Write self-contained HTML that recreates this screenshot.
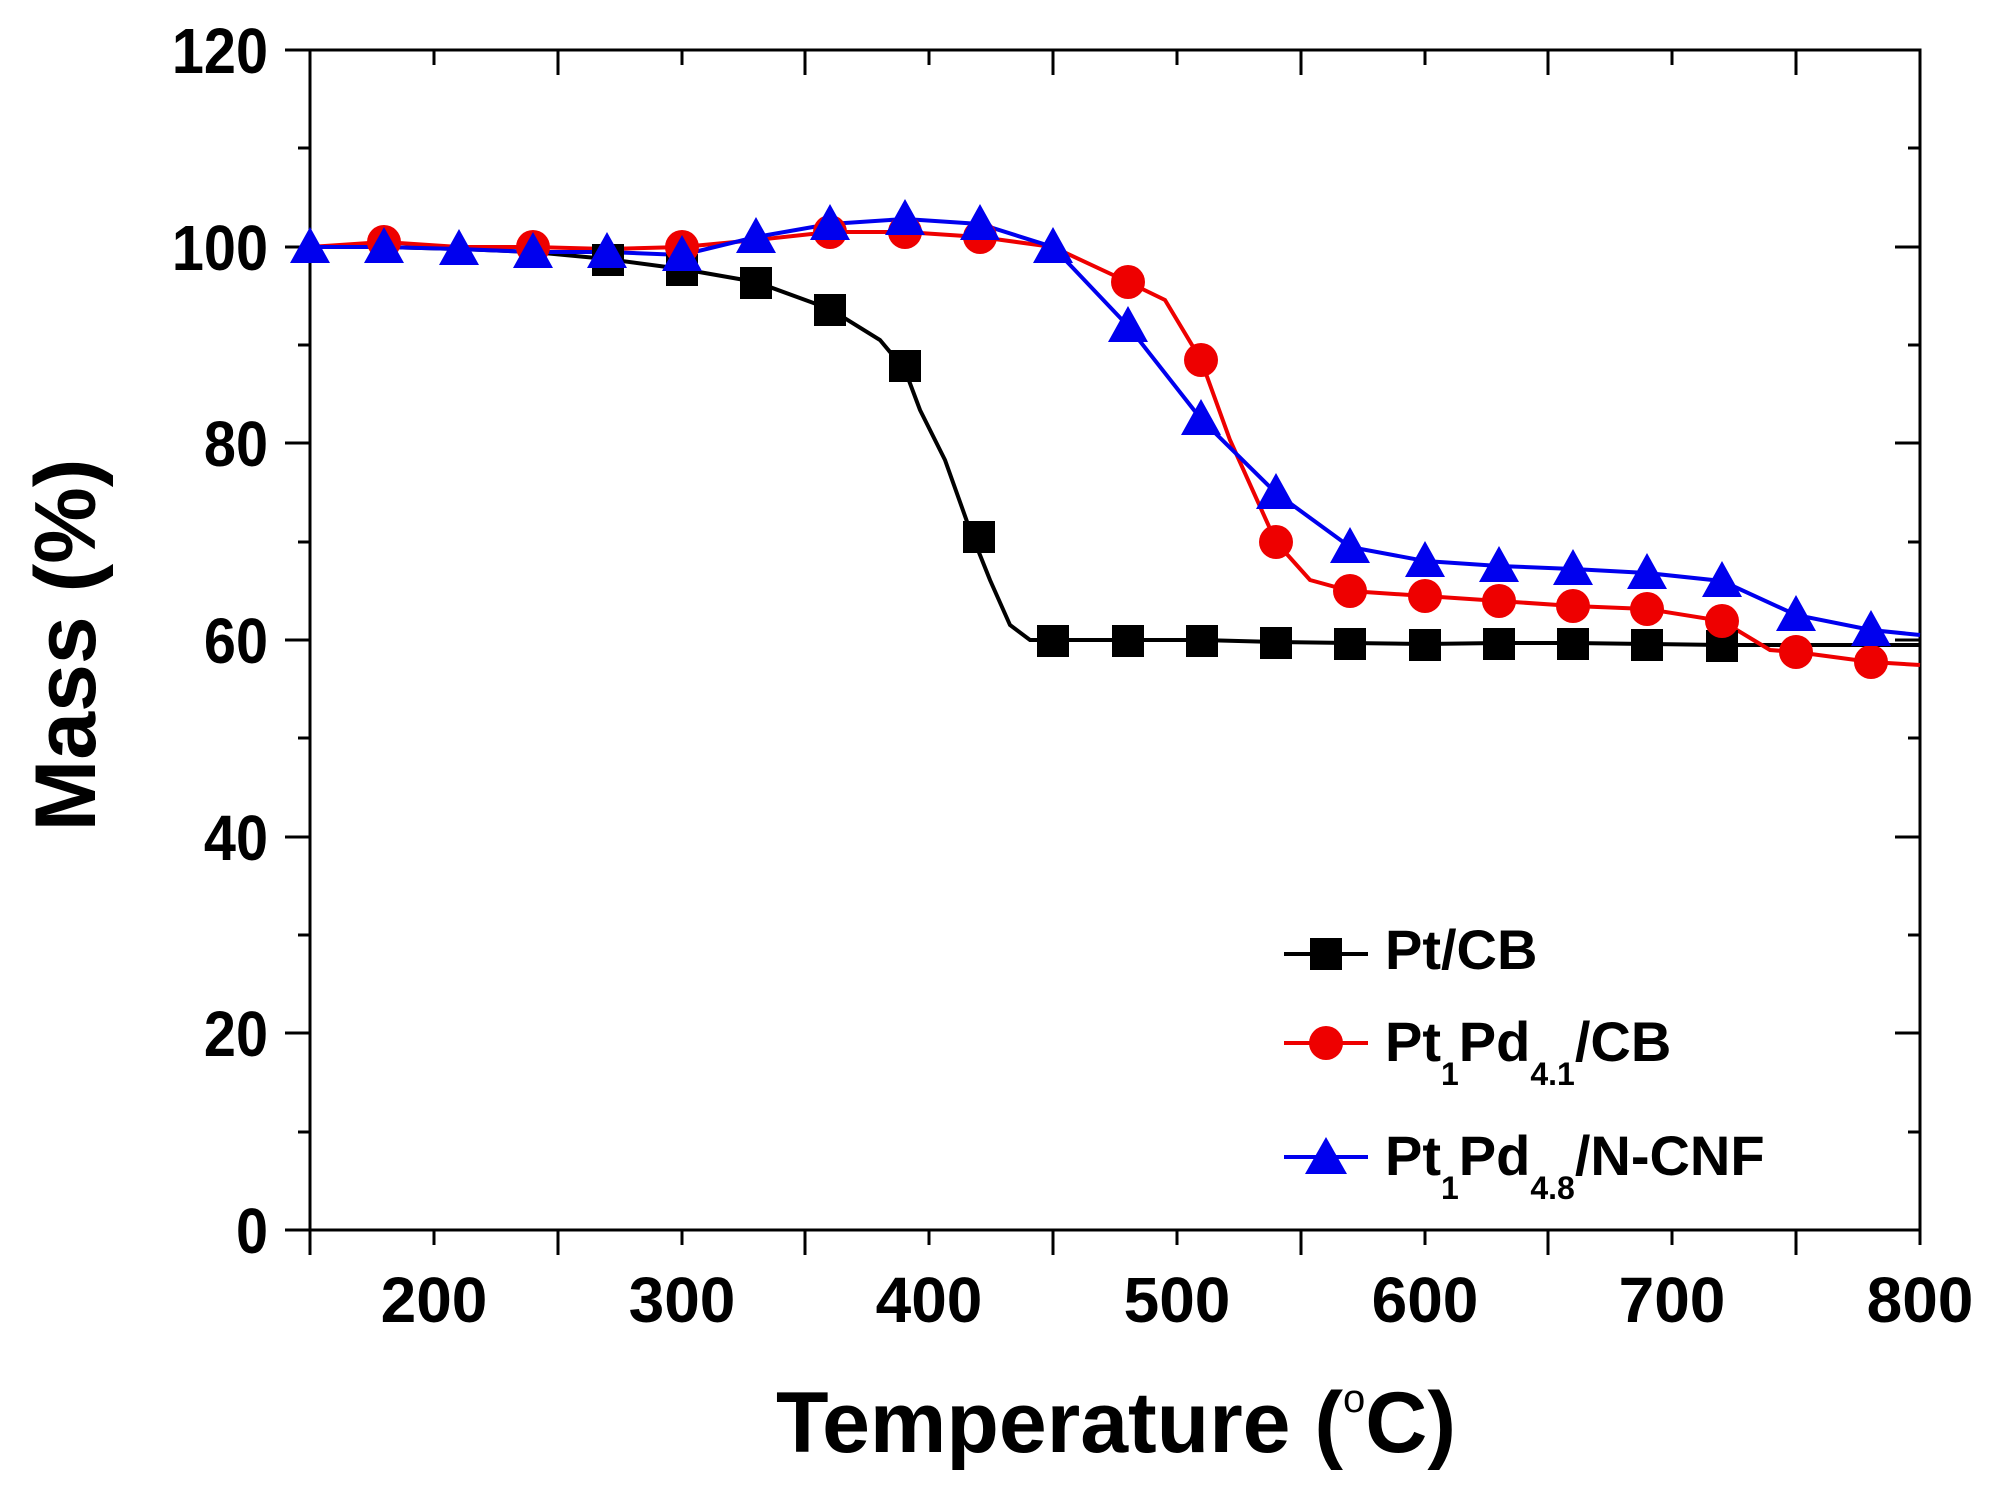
<!DOCTYPE html>
<html><head><style>body{margin:0;background:#fff}svg{display:block}</style></head><body>
<svg width="1989" height="1487" xmlns="http://www.w3.org/2000/svg" font-family="Liberation Sans, Arial, sans-serif" font-weight="bold">
<g stroke="#000" stroke-width="3" fill="none">
<rect x="310" y="50" width="1610" height="1180"/>
</g>
<g stroke="#000" stroke-width="3">
<path d="M310 1230v25M434 1230v15M558 1230v25M682 1230v15M805 1230v25M929 1230v15M1053 1230v25M1177 1230v15M1301 1230v25M1425 1230v15M1548 1230v25M1672 1230v15M1796 1230v25M1920 1230v15
M434 50v15M558 50v25M682 50v15M805 50v25M929 50v15M1053 50v25M1177 50v15M1301 50v25M1425 50v15M1548 50v25M1672 50v15M1796 50v25"/>
<path d="M285 1230h25M298 1132h12M285 1033h25M298 935h12M285 837h25M298 738h12M285 640h25M298 542h12M285 443h25M298 345h12M285 247h25M298 148h12M285 50h25
M1920 1132h-12M1920 1033h-25M1920 935h-12M1920 837h-25M1920 738h-12M1920 640h-25M1920 542h-12M1920 443h-25M1920 345h-12M1920 247h-25M1920 148h-12"/>
</g>
<g font-size="64" text-anchor="end">
<text x="268" y="1253" transform="translate(268 0) scale(0.9 1) translate(-268 0)">0</text>
<text x="268" y="1056" transform="translate(268 0) scale(0.9 1) translate(-268 0)">20</text>
<text x="268" y="860" transform="translate(268 0) scale(0.9 1) translate(-268 0)">40</text>
<text x="268" y="663" transform="translate(268 0) scale(0.9 1) translate(-268 0)">60</text>
<text x="268" y="466" transform="translate(268 0) scale(0.9 1) translate(-268 0)">80</text>
<text x="268" y="270" transform="translate(268 0) scale(0.9 1) translate(-268 0)">100</text>
<text x="268" y="73" transform="translate(268 0) scale(0.9 1) translate(-268 0)">120</text>
</g>
<g font-size="64" text-anchor="middle">
<text x="434" y="1322">200</text><text x="682" y="1322">300</text><text x="929" y="1322">400</text>
<text x="1177" y="1322">500</text><text x="1425" y="1322">600</text><text x="1672" y="1322">700</text><text x="1920" y="1322">800</text>
</g>
<text x="1116" y="1452" font-size="86" text-anchor="middle">Temperature (<tspan font-size="40" dy="-40" font-weight="normal">o</tspan><tspan dy="40">C)</tspan></text>
<text transform="translate(95 645) rotate(-90)" font-size="86" text-anchor="middle">Mass (%)</text>

<polyline fill="none" stroke="#000" stroke-width="4" points="310,247 384,247 459,249 533,252 607,259 682,269 756,282 830,309 880,340 905,370 920,410 945,460 970,530 990,580 1010,625 1030,640 1053,640 1128,640 1201,640 1276,642 1350,643 1425,644 1499,643 1573,643 1647,644 1722,645 1920,645"/>
<polyline fill="none" stroke="#e00" stroke-width="4" points="310,247 384,242 459,247 533,247 607,249 682,247 756,240 830,232 905,232 980,237 1053,247 1128,282 1165,300 1201,360 1230,440 1276,542 1310,580 1350,591 1425,596 1499,601 1573,606 1647,609 1722,621 1770,650 1796,652 1871,662 1920,665"/>
<polyline fill="none" stroke="#00e" stroke-width="4" points="310,247 384,247 459,249 533,252 607,252 682,255 756,237 830,224 905,219 980,224 1053,247 1128,326 1201,419 1276,493 1350,547 1425,561 1499,566 1573,569 1647,573 1722,581 1796,615 1871,630 1920,635"/>
<g fill="#000">
<rect x="592" y="244" width="32" height="32"/><rect x="666" y="254" width="32" height="32"/><rect x="740" y="267" width="32" height="32"/><rect x="814" y="294" width="32" height="32"/><rect x="889" y="350" width="32" height="32"/><rect x="963" y="521" width="32" height="32"/><rect x="1037" y="625" width="32" height="32"/><rect x="1112" y="625" width="32" height="32"/><rect x="1186" y="625" width="32" height="32"/><rect x="1260" y="627" width="32" height="32"/><rect x="1334" y="628" width="32" height="32"/><rect x="1409" y="629" width="32" height="32"/><rect x="1483" y="628" width="32" height="32"/><rect x="1557" y="628" width="32" height="32"/><rect x="1631" y="629" width="32" height="32"/><rect x="1706" y="630" width="32" height="32"/>
</g>
<g fill="#e00">
<circle cx="384" cy="242" r="17"/><circle cx="533" cy="247" r="17"/><circle cx="682" cy="247" r="17"/><circle cx="830" cy="232" r="17"/><circle cx="905" cy="232" r="17"/><circle cx="980" cy="237" r="17"/><circle cx="1128" cy="282" r="17"/><circle cx="1201" cy="360" r="17"/><circle cx="1276" cy="542" r="17"/><circle cx="1350" cy="591" r="17"/><circle cx="1425" cy="596" r="17"/><circle cx="1499" cy="601" r="17"/><circle cx="1573" cy="606" r="17"/><circle cx="1647" cy="609" r="17"/><circle cx="1722" cy="621" r="17"/><circle cx="1796" cy="652" r="17"/><circle cx="1871" cy="662" r="17"/>
</g>
<g fill="#00e">
<path d="M310 227l20 36h-40zM384 227l20 36h-40zM459 229l20 36h-40zM533 232l20 36h-40zM607 232l20 36h-40zM682 235l20 36h-40zM756 217l20 36h-40zM830 204l20 36h-40zM905 199l20 36h-40zM980 204l20 36h-40zM1053 227l20 36h-40zM1128 306l20 36h-40zM1201 399l20 36h-40zM1276 473l20 36h-40zM1350 527l20 36h-40zM1425 541l20 36h-40zM1499 546l20 36h-40zM1573 549l20 36h-40zM1647 553l20 36h-40zM1722 561l20 36h-40zM1796 595l20 36h-40zM1871 610l20 36h-40z"/>
</g>

<g stroke-width="4">
<line x1="1284" y1="954" x2="1368" y2="954" stroke="#000"/>
<line x1="1284" y1="1043" x2="1368" y2="1043" stroke="#e00"/>
<line x1="1284" y1="1157" x2="1368" y2="1157" stroke="#00e"/>
</g>
<rect x="1310" y="938" width="32" height="32" fill="#000"/>
<circle cx="1326" cy="1043" r="17" fill="#e00"/>
<path d="M1326 1137l21 37h-42z" fill="#00e"/>
<g font-size="56">
<text x="1385" y="969">Pt/CB</text>
<text x="1385" y="1061">Pt<tspan font-size="32" dy="24">1</tspan><tspan dy="-24">Pd</tspan><tspan font-size="32" dy="24">4.1</tspan><tspan dy="-24">/CB</tspan></text>
<text x="1385" y="1175">Pt<tspan font-size="32" dy="24">1</tspan><tspan dy="-24">Pd</tspan><tspan font-size="32" dy="24">4.8</tspan><tspan dy="-24">/N-CNF</tspan></text>
</g>
</svg>
</body></html>
